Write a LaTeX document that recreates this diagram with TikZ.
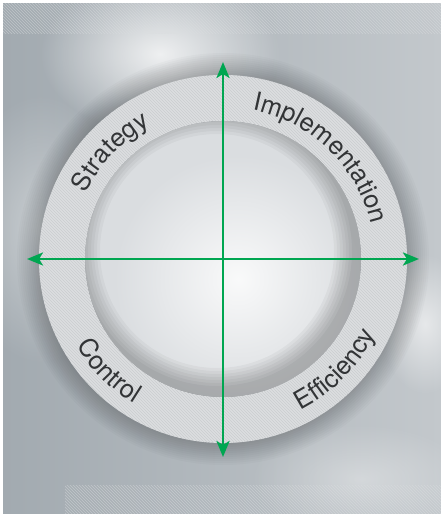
\documentclass[tikz,border=0pt]{standalone}
\usepackage{fontspec}
\setmainfont{TeX Gyre Heros}
\usetikzlibrary{arrows.meta,decorations.text,patterns,fadings}

\definecolor{bgleft}{HTML}{A2AAB0}
\definecolor{bgright}{HTML}{C3C8CC}
\definecolor{ringgray}{HTML}{DCDEE0}
\definecolor{hatchgray}{HTML}{CACDD0}
\definecolor{diskgray}{HTML}{DADDE0}
\definecolor{axisgreen}{HTML}{00A651}
\definecolor{labelgray}{HTML}{323436}

\newcommand\labelfont{\fontsize{25.5}{30}\selectfont}

\tikzfading[name=glowfade, inner color=transparent!0, outer color=transparent!100]

\tikzset{
  axisarrow/.style={draw=axisgreen, line width=2.8pt,
    {Stealth[length=16pt,width=13pt,inset=4pt]}-{Stealth[length=16pt,width=13pt,inset=4pt]}},
  ringlabel/.style={decorate, decoration={text along path, text align=center,
    text color=labelgray, text={|\labelfont|#1}}},
}

\begin{document}
\begin{tikzpicture}[x=1pt,y=1pt]
    \useasboundingbox (0,0) rectangle (441,514);
    \fill[white] (0,0) rectangle (441,514);

    % Brushed metal backdrop
    \shade[left color=bgleft, right color=bgright] (3,0) rectangle (441,510);
    \fill[white, opacity=.8, path fading=glowfade] (40,380) rectangle (280,540);
    \fill[white, opacity=.4, path fading=glowfade] (-40,150) rectangle (120,420);
    \fill[white, opacity=.6, path fading=glowfade] (380,120) rectangle (470,260);
    \fill[white, opacity=.35, path fading=glowfade] (250,-20) rectangle (470,90);
    \fill[pattern=north west lines, pattern color=white!40!bgright, opacity=.5] (3,480) rectangle (441,510);
    \fill[pattern=north west lines, pattern color=white!40!bgright, opacity=.5] (65,0) rectangle (441,28);

    \coordinate (O) at (223,255);
    \coordinate (N) at (223,452);
    \coordinate (S) at (223,57);
    \coordinate (W) at (27,255);
    \coordinate (E) at (419,255);

    % Shadow round the ring
    \foreach \r in {186,188,...,206} {
        \fill[black, opacity=.018] (O) circle (\r pt);
    }

    % Ring
    \fill[ringgray, even odd rule] (O) circle (184pt) (O) circle (138pt);
    \fill[pattern=north west lines, pattern color=hatchgray, even odd rule]
        (O) circle (184pt) (O) circle (138pt);

    % Recessed disc
    \fill[diskgray] (O) circle (138pt);
    \begin{scope}
        \clip (O) circle (138pt);
        \fill[white, opacity=.85, path fading=glowfade] ([shift={(15,-20)}]O) circle (125pt);
        \foreach \k in {1,...,7} {
            \fill[black, opacity=.035, even odd rule]
                ([shift={(-6,8)}]O) circle (160pt) ([shift={(-6,8)}]O) circle ({(138-\k*3)*1pt});
        }
    \end{scope}

    % Axes
    \draw[axisarrow] (S) -- (N);
    \draw[axisarrow] (W) -- (E);

    % Labels on the ring
    \path[ringlabel=Strategy] ([shift={(161.5:152pt)}]O) arc[start angle=161.5, end angle=111.5, radius=152pt];
    \path[ringlabel=Implementation] ([shift={(86:152pt)}]O) arc[start angle=86, end angle=6, radius=152pt];
    \path[ringlabel=Control] ([shift={(194.5:170pt)}]O) arc[start angle=194.5, end angle=254.5, radius=170pt];
    \path[ringlabel=Efficiency] ([shift={(285.5:170pt)}]O) arc[start angle=285.5, end angle=345.5, radius=170pt];
\end{tikzpicture}
\end{document}
